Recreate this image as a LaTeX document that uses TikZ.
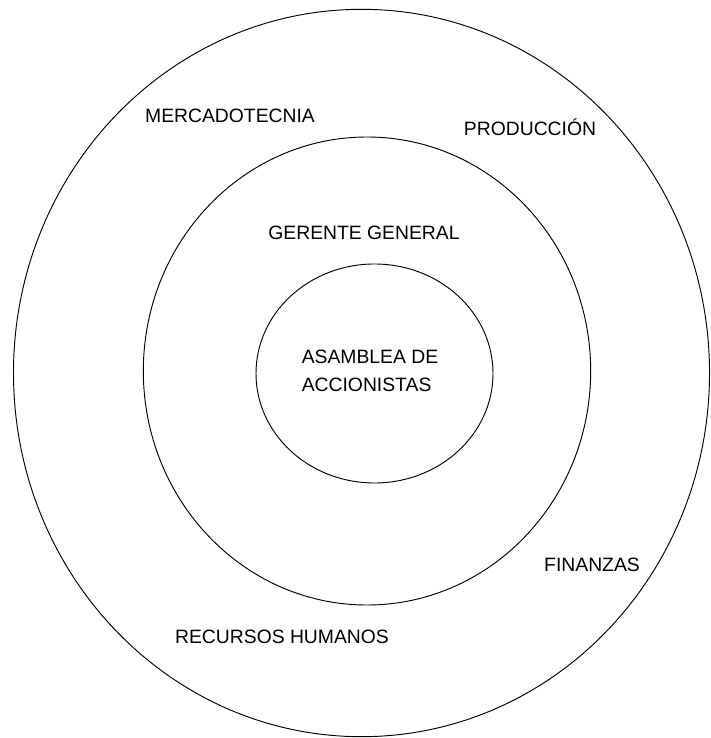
\documentclass[tikz,border=0pt]{standalone}
\usepackage{fontspec}
\setsansfont{Liberation Sans}
\begin{document}
\begin{tikzpicture}[x=0.03cm, y=-0.03cm, ring/.style={draw, line width=0.8pt}, area node/.style={font=\sffamily\fontsize{16.5}{24}\selectfont, inner sep=0pt}]
\clip (0,0) rectangle (711,738);
\fill[white] (0,0) rectangle (711,738);
\draw[ring] (361.5,373) ellipse [x radius=10.44cm, y radius=10.91cm];
\draw[ring] (367,371) ellipse [x radius=6.71cm, y radius=7.02cm];
\draw[ring] (374.5,373.5) ellipse [x radius=3.555cm, y radius=3.285cm];
\node[area node, align=left] (asamblea) at (370,371) {ASAMBLEA DE\\ACCIONISTAS};
\node[area node] (gerente) at (364,233) {GERENTE GENERAL};
\node[area node] (mercado) at (230,116) {MERCADOTECNIA};
\node[area node] (produccion) at (530,127) {PRODUCCIÓN};
\node[area node] (finanzas) at (592,565) {FINANZAS};
\node[area node] (recursos) at (282,637) {RECURSOS HUMANOS};
\end{tikzpicture}
\end{document}
